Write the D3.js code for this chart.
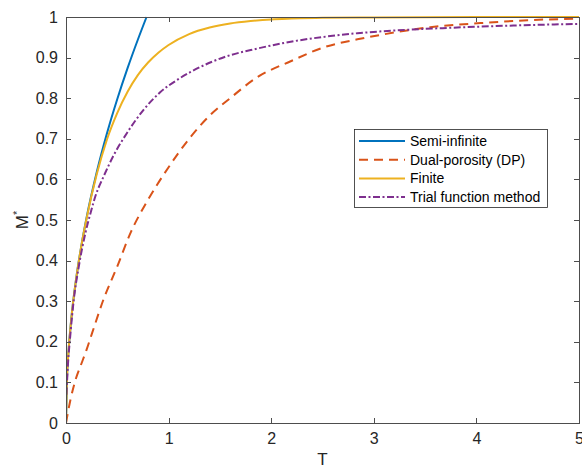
<!DOCTYPE html>
<html lang="en">
<head>
  <meta charset="UTF-8">
  <title>M* vs T</title>
  <style>
    body { margin: 0; background: #fff; }
    svg { display: block; font-family: "Liberation Sans", Arial, sans-serif; }
    .axis path, .axis line { stroke: #4d4d4d; shape-rendering: crispEdges; }
    .axis text { fill: #262626; font-size: 16px; }
    .curve { fill: none; stroke-width: 2px; }
  </style>
</head>
<body>
  <svg id="chart" width="582" height="466"></svg>
  <script src="https://cdn.jsdelivr.net/npm/d3@7"></script>
  <script>
    // values
    const tSemi = [0, 0.01, 0.02, 0.05, 0.1, 0.15, 0.2, 0.3, 0.4, 0.5, 0.6, 0.7, 0.785];
    const mSemi = [0, 0.113, 0.16, 0.252, 0.357, 0.437, 0.505, 0.618, 0.714, 0.798, 0.874, 0.944, 1.0];

    const tDual = [0, 0.044, 0.1, 0.141, 0.2, 0.255, 0.365, 0.5, 0.63, 0.8, 1.0, 1.2, 1.4, 1.6, 1.86, 2.19, 2.51, 2.84, 3.09, 3.55, 4.04, 4.5, 5];
    const mDual = [0, 0.058, 0.112, 0.14, 0.18, 0.222, 0.304, 0.386, 0.469, 0.55, 0.63, 0.70, 0.757, 0.80, 0.851, 0.891, 0.925, 0.945, 0.957, 0.975, 0.985, 0.992, 0.996];

    const tFinite = [0, 0.01, 0.02, 0.05, 0.1, 0.15, 0.2, 0.3, 0.4, 0.5, 0.6, 0.7, 0.8, 0.9, 1.0, 1.2, 1.4, 1.6, 1.8, 2.0, 2.2, 2.5, 3, 4, 5];
    const mFinite = [0, 0.113, 0.16, 0.252, 0.357, 0.437, 0.503, 0.613, 0.699, 0.764, 0.816, 0.857, 0.888, 0.912, 0.931, 0.958, 0.974, 0.984, 0.990, 0.994, 0.996, 0.998, 0.999, 1.0, 1.0];

    const tTrial = [0.004, 0.018, 0.044, 0.076, 0.125, 0.19, 0.24, 0.287, 0.368, 0.466, 0.596, 0.758, 0.92, 1.083, 1.21, 1.31, 1.54, 1.86, 2.19, 2.51, 2.84, 3.09, 3.71, 4.36, 5];
    const mTrial = [0.07, 0.14, 0.222, 0.304, 0.386, 0.469, 0.518, 0.559, 0.608, 0.66, 0.715, 0.772, 0.815, 0.845, 0.864, 0.877, 0.901, 0.922, 0.939, 0.951, 0.96, 0.965, 0.973, 0.979, 0.983];

    const seriesNames = ["Semi-infinite", "Dual-porosity (DP)", "Finite", "Trial function method"];
    const xTicks = [0, 1, 2, 3, 4, 5];
    const yTicks = [0, 0.1, 0.2, 0.3, 0.4, 0.5, 0.6, 0.7, 0.8, 0.9, 1];

    const series = [
      { name: seriesNames[0], t: tSemi, m: mSemi, color: "#0072BD", dash: null },
      { name: seriesNames[1], t: tDual, m: mDual, color: "#D95319", dash: "9,6" },
      { name: seriesNames[2], t: tFinite, m: mFinite, color: "#EDB120", dash: null },
      { name: seriesNames[3], t: tTrial, m: mTrial, color: "#7E2F8E", dash: "7,2.5,2,2.5" }
    ];

    const margin = { top: 17, left: 66 };
    const w = 513, h = 406;

    const svg = d3.select("#chart");
    const g = svg.append("g").attr("transform", `translate(${margin.left},${margin.top})`);

    const x = d3.scaleLinear().domain([0, 5]).range([0, w]);
    const y = d3.scaleLinear().domain([0, 1]).range([h, 0]);

    svg.append("defs").append("clipPath").attr("id", "clip")
      .append("rect").attr("x", 0).attr("y", -2).attr("width", w).attr("height", h + 2);

    const line = d3.line().x(d => x(d[0])).y(d => y(d[1])).curve(d3.curveMonotoneX);

    g.append("g").attr("clip-path", "url(#clip)")
      .selectAll("path")
      .data(series)
      .join("path")
      .attr("class", "curve")
      .attr("stroke", d => d.color)
      .attr("stroke-dasharray", d => d.dash)
      .attr("d", d => line(d.t.map((t, i) => [t, d.m[i]])));

    // axes with inward ticks, box on
    g.append("g").attr("class", "axis").attr("transform", `translate(0,${h})`)
      .call(d3.axisBottom(x).tickValues(xTicks).tickSizeInner(-5).tickSizeOuter(0).tickPadding(10).tickFormat(d3.format("d")));
    g.append("g").attr("class", "axis")
      .call(d3.axisTop(x).tickValues(xTicks).tickSizeInner(-5).tickSizeOuter(0).tickFormat(""));
    g.append("g").attr("class", "axis")
      .call(d3.axisLeft(y).tickValues(yTicks).tickSizeInner(-5).tickSizeOuter(0).tickPadding(8).tickFormat(d => d === 0 || d === 1 ? d3.format("d")(d) : d3.format(".1f")(d)));
    g.append("g").attr("class", "axis").attr("transform", `translate(${w},0)`)
      .call(d3.axisRight(y).tickValues(yTicks).tickSizeInner(-5).tickSizeOuter(0).tickFormat(""));

    // axis labels
    svg.append("text")
      .attr("x", margin.left + w / 2).attr("y", 465)
      .attr("text-anchor", "middle").attr("font-size", 17).attr("fill", "#262626")
      .text("T");
    const yl = svg.append("text")
      .attr("transform", `translate(28,${margin.top + h / 2}) rotate(-90)`)
      .attr("text-anchor", "middle").attr("font-size", 17).attr("fill", "#262626");
    yl.append("tspan").text("M");
    yl.append("tspan").attr("font-size", 11).attr("dy", -7).text("*");

    // legend
    const lg = svg.append("g").attr("transform", "translate(354,129)");
    lg.append("rect").attr("x", 0.5).attr("y", 0.5).attr("width", 193).attr("height", 78)
      .attr("fill", "#fff").attr("stroke", "#262626").attr("stroke-width", 0.8);
    const item = lg.selectAll("g.item").data(series).join("g")
      .attr("class", "item")
      .attr("transform", (d, i) => `translate(0,${12 + i * 18.7})`);
    item.append("line")
      .attr("x1", 5).attr("x2", 51).attr("y1", 0).attr("y2", 0)
      .attr("stroke", d => d.color).attr("stroke-width", 2)
      .attr("stroke-dasharray", d => d.dash);
    item.append("text")
      .attr("x", 56).attr("y", 0).attr("dy", "0.35em")
      .attr("font-size", 14).attr("fill", "#000")
      .text(d => d.name);
  </script>
</body>
</html>
